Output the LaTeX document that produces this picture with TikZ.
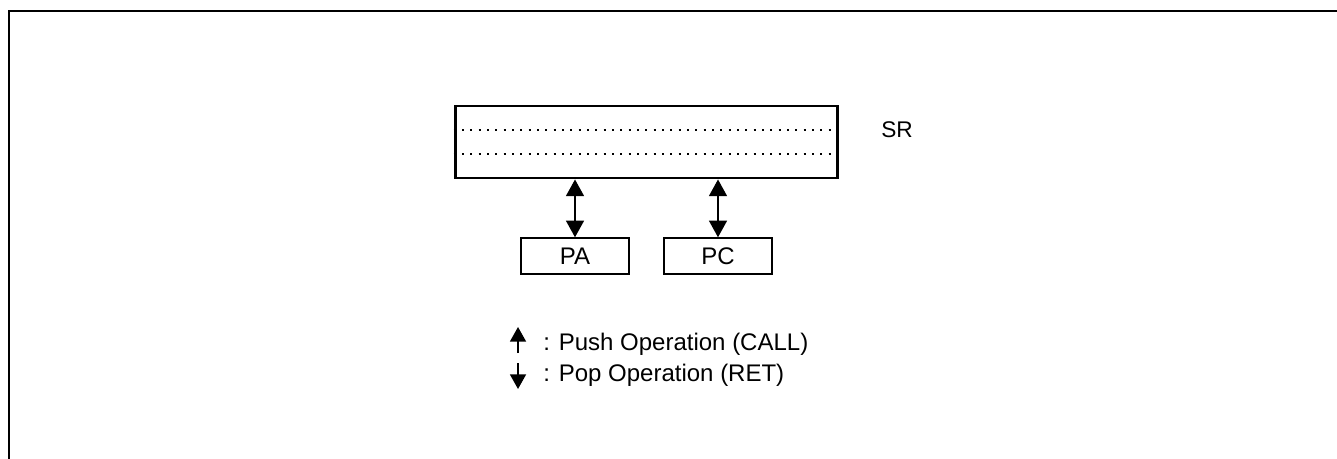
\documentclass[tikz,border=0pt]{standalone}
\usepackage{fontspec}
\setmainfont{Liberation Sans}
\usetikzlibrary{arrows.meta, positioning, calc}

\tikzset{
  reg/.style = {draw, line width=1.1pt, inner sep=0pt, minimum width=81pt, minimum height=27pt},
  stack/.style = {draw, line width=2.2pt, inner sep=0pt, minimum width=287pt, minimum height=54pt},
  level/.style = {line width=1.5pt, dash pattern=on 1.5pt off 4.75pt},
  xfer/.style = {{Triangle[length=12.5pt, width=13.5pt]}-{Triangle[length=12.5pt, width=13.5pt]}, line width=1.1pt},
  key/.style = {line width=1.3pt, -{Triangle[length=11pt, width=12pt]}},
}

\begin{document}
\begin{tikzpicture}[x=0.75pt, y=-0.75pt, font=\fontsize{18}{21}\selectfont]
\useasboundingbox (0,0) rectangle (1337,459);

% frame
\draw [line width=2.2pt] (9,459) -- (9,11) -- (1337,11);

% stack register
\node (sr) [stack] at (646.5,142) {};
\draw [level] ($(sr.north west)!1/3!(sr.south west)$) -- ($(sr.north east)!1/3!(sr.south east)$);
\draw [level] ($(sr.north west)!2/3!(sr.south west)$) -- ($(sr.north east)!2/3!(sr.south east)$);
\node (srlabel) [font=\fontsize{17}{20}\selectfont] at (897,129.5) {SR};

\node (pa) [reg] at (575,256) {PA};
\node (pc) [reg] at (718,256) {PC};

\draw [xfer] (sr.south -| pa.north) -- (pa.north);
\draw [xfer] (sr.south -| pc.north) -- (pc.north);

% legend
\coordinate (pushlo) at (518,353);
\coordinate (pushhi) at (518,327);
\coordinate (poplo) at (518,389);
\coordinate (pophi) at (518,363);
\node (push) [anchor=west, inner sep=0pt] at (543,344) {: Push Operation (CALL)};
\node (pop) [anchor=west, inner sep=0pt] at (543,375) {: Pop Operation (RET)};
\draw [key] (pushlo) -- (pushhi);
\draw [key] (pophi) -- (poplo);
\end{tikzpicture}
\end{document}
